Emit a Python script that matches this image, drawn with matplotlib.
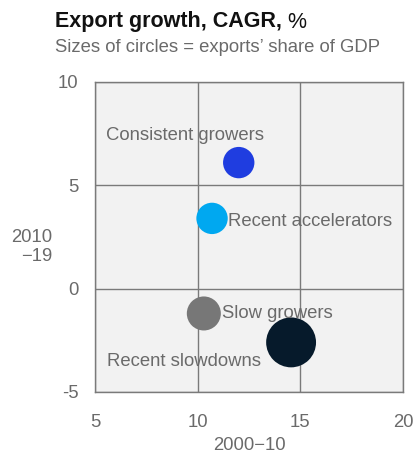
import matplotlib.pyplot as plt

# Export growth CAGR by group: 2000-10 on x, 2010-19 on y
groups = ["Consistent growers", "Recent accelerators", "Slow growers", "Recent slowdowns"]
cagr_2000_10 = [12.0, 10.7, 10.3, 14.55]
cagr_2010_19 = [6.1, 3.4, -1.2, -2.6]
export_share = [17, 17, 20, 43]   # exports' share of GDP, %
colors = ["#1f3de0", "#00a8f0", "#777777", "#061a2b"]

# label anchors (left edge, vertical centre) in data units
label_x = [5.55, 11.5, 11.2, 5.6]
label_y = [7.4, 3.25, -1.2, -3.5]

x_ticks = [5, 10, 15, 20]
y_ticks = [-5, 0, 5, 10]
y_tick_labels = ["-5", "0", "5", "10"]

plt.rcParams["font.family"] = ["Liberation Sans", "DejaVu Sans"]
grey_text = "#6a6a6a"
fs = 13.3

fig = plt.figure(figsize=(4.17, 4.66), dpi=100)
ax = fig.add_axes([95 / 417, 1 - 392 / 466, 308 / 417, 310 / 466])
ax.set_facecolor("#f2f2f2")

ax.set_xlim(5, 20)
ax.set_ylim(-5, 10)
ax.set_xticks(x_ticks)
ax.set_yticks(y_ticks)
ax.set_yticklabels(y_tick_labels)
ax.tick_params(length=0, colors=grey_text, labelsize=fs)
ax.tick_params(axis="y", pad=12)
ax.tick_params(axis="x", pad=16)
for sp in ax.spines.values():
    sp.set_color("#7a7a7a")
    sp.set_linewidth(1.0)
ax.grid(True, color="#7a7a7a", linewidth=1.0)
ax.set_axisbelow(True)

sizes = [s * 30 for s in export_share]
ax.scatter(cagr_2000_10, cagr_2010_19, s=sizes, c=colors, linewidths=0, zorder=3)

for name, lx, ly in zip(groups, label_x, label_y):
    ax.text(lx, ly, name, color=grey_text, fontsize=fs, va="center", ha="left", zorder=4)

ax.set_xlabel("2000\u221210", color=grey_text, fontsize=fs, labelpad=4)
fig.text(52 / 417, 1 - 247 / 466, "2010\n\u221219", color=grey_text, fontsize=fs,
         ha="right", va="center", linespacing=1.15)

title = fig.text(55 / 417, 1 - 22 / 466, "Export growth, CAGR,", fontsize=15.5, fontweight="bold",
                 color="#111111", ha="left", va="center")
fig.canvas.draw()
bb = title.get_window_extent()
fig.text((bb.x1 + 5) / 417, 1 - 22 / 466, "%", fontsize=15.5, color="#111111",
         ha="left", va="center")
fig.text(55 / 417, 1 - 47 / 466, "Sizes of circles = exports\u2019 share of GDP", fontsize=fs,
         color=grey_text, ha="left", va="center")

fig.savefig("out.png", dpi=100)
